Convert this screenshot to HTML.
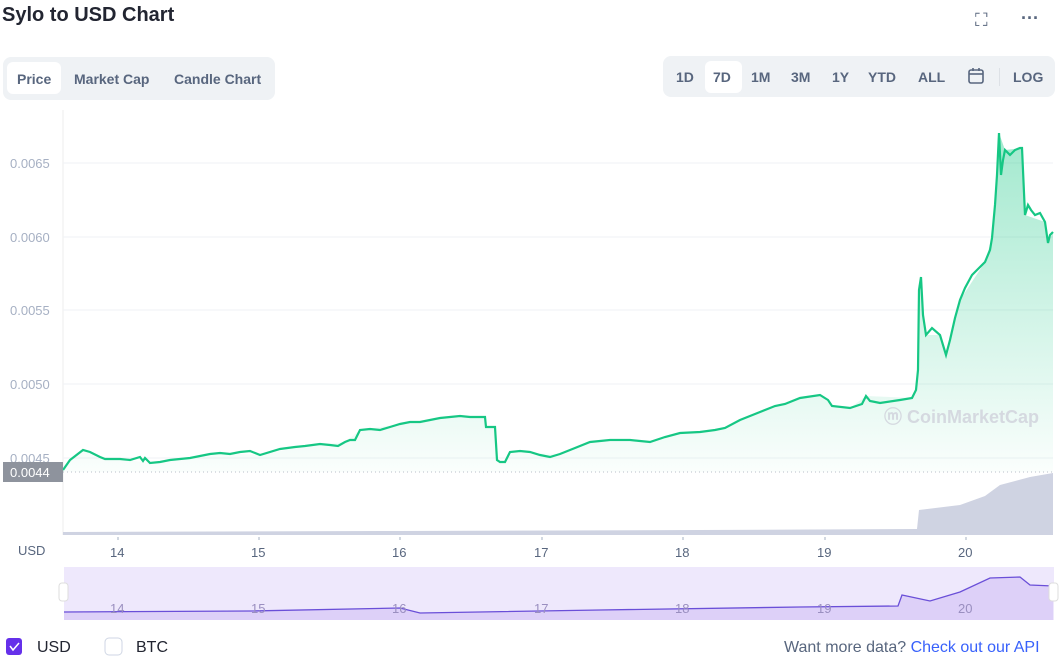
<!DOCTYPE html>
<html><head><meta charset="utf-8"><style>
body{margin:0;width:1060px;height:662px;background:#fff;font-family:"Liberation Sans",sans-serif;overflow:hidden;position:relative}
.t{position:absolute;white-space:nowrap}
</style></head><body>
<div class="t" style="left:2px;top:4px;font-size:20px;font-weight:bold;color:#222531">Sylo to USD Chart</div>
<div class="t" style="left:975px;top:10px;font-size:18px;color:#58667e">⛶</div>
<div class="t" style="left:1021px;top:8px;font-size:18px;color:#58667e;font-weight:bold">···</div>
<div style="position:absolute;left:3px;top:57px;width:272px;height:43px;background:#eff2f5;border-radius:8px"></div>
<div style="position:absolute;left:7px;top:62px;width:54px;height:32px;background:#fff;border-radius:6px"></div>
<div class="t" style="left:17px;top:71px;font-size:14px;font-weight:bold;color:#58667e">Price</div>
<div class="t" style="left:74px;top:71px;font-size:14px;font-weight:bold;color:#58667e">Market Cap</div>
<div class="t" style="left:174px;top:71px;font-size:14px;font-weight:bold;color:#58667e">Candle Chart</div>
<div style="position:absolute;left:663px;top:56px;width:392px;height:41px;background:#eff2f5;border-radius:8px"></div>
<div style="position:absolute;left:705px;top:61px;width:37px;height:32px;background:#fff;border-radius:6px"></div>
<div class="t" style="left:676px;top:69px;font-size:14px;font-weight:bold;color:#58667e">1D</div>
<div class="t" style="left:713px;top:69px;font-size:14px;font-weight:bold;color:#58667e">7D</div>
<div class="t" style="left:751px;top:69px;font-size:14px;font-weight:bold;color:#58667e">1M</div>
<div class="t" style="left:791px;top:69px;font-size:14px;font-weight:bold;color:#58667e">3M</div>
<div class="t" style="left:832px;top:69px;font-size:14px;font-weight:bold;color:#58667e">1Y</div>
<div class="t" style="left:868px;top:69px;font-size:14px;font-weight:bold;color:#58667e">YTD</div>
<div class="t" style="left:918px;top:69px;font-size:14px;font-weight:bold;color:#58667e">ALL</div>
<svg style="position:absolute;left:967px;top:67px" width="18" height="18"><rect x="2" y="3" width="14" height="13" rx="2" fill="none" stroke="#58667e" stroke-width="1.6"/><line x1="2" y1="7" x2="16" y2="7" stroke="#58667e" stroke-width="1.6"/><line x1="6" y1="1" x2="6" y2="4" stroke="#58667e" stroke-width="1.6"/><line x1="12" y1="1" x2="12" y2="4" stroke="#58667e" stroke-width="1.6"/></svg>
<div style="position:absolute;left:999px;top:68px;width:1px;height:18px;background:#dde1e6"></div>
<div class="t" style="left:1013px;top:69px;font-size:14px;font-weight:bold;color:#58667e">LOG</div>

<svg style="position:absolute;left:0;top:0" width="1060" height="662">
<defs><linearGradient id="g" x1="0" y1="0" x2="0" y2="1"><stop offset="0" stop-color="#16c784" stop-opacity="0.4"/><stop offset="1" stop-color="#16c784" stop-opacity="0.02"/></linearGradient></defs>
<line x1="63" y1="110" x2="63" y2="535" stroke="#eee"/>
<g stroke="#eff2f5"><line x1="63" y1="163" x2="1053" y2="163"/><line x1="63" y1="237" x2="1053" y2="237"/><line x1="63" y1="310" x2="1053" y2="310"/><line x1="63" y1="384" x2="1053" y2="384"/><line x1="63" y1="458" x2="1053" y2="458"/></g>
<g font-size="13" fill="#a6b0c3" font-family="Liberation Sans"><text x="10" y="168">0.0065</text><text x="10" y="242">0.0060</text><text x="10" y="315">0.0055</text><text x="10" y="389">0.0050</text><text x="10" y="463">0.0045</text></g>
<path d="M63,470 L70,460 83,450 90,452 100,457 120,459 150,463 180,459 220,453 260,455 305,446 345,442 360,430 400,424 440,418 485,417 486,427 495,427 497,460 505,462 510,452 560,454 590,442 650,442 680,433 725,428 760,412 800,398 820,395 832,406 850,408 866,396 912,398 916,390 918,370 919,290 921,277 923,315 926,335 940,335 946,355 960,300 985,262 992,238 997,175 999,133 1005,150 1022,148 1025,215 1045,222 1048,243 1053,232 L1053,472 L63,472 Z" fill="url(#g)"/>
<path d="M63,470 L70,460 83,450 90,452 100,457 105,459 120,459 130,460 140,457 143,461 145,458 150,463 160,462 170,460 180,459 190,458 200,456 210,454 220,453 230,454 240,452 250,451 260,455 280,449 295,447 305,446 320,444 330,445 338,446 345,442 350,440 355,440 357,436 360,430 370,429 380,430 390,427 400,424 410,422 420,422 430,420 440,418 450,417 460,416 470,417 485,417 486,427 495,427 497,460 500,462 505,462 510,452 520,451 530,452 540,455 550,457 560,454 575,448 590,442 610,440 630,440 650,442 665,437 680,433 700,432 715,430 725,428 740,420 760,412 775,406 785,404 800,398 820,395 828,400 832,406 850,408 862,404 866,396 870,401 880,403 900,400 912,398 916,390 918,370 919,290 921,277 923,315 926,335 932,328 940,335 946,355 950,340 955,318 960,300 965,288 972,275 980,267 985,262 990,250 992,238 995,205 997,175 999,133 1001,175 1003,160 1005,150 1010,155 1015,150 1020,148 1022,148 1025,215 1028,205 1031,210 1035,215 1040,213 1045,222 1048,243 1050,235 1053,232" fill="none" stroke="#16c784" stroke-width="2.2"/>
<line x1="63" y1="472" x2="1053" y2="472" stroke="#b8bfca" stroke-dasharray="1,3"/>
<path d="M63,535 L63,532 400,531 700,530 917,529 919,510 960,505 985,496 1000,485 1030,477 1053,473 L1053,535 Z" fill="#cfd3e2"/>
<rect x="3" y="462" width="60" height="20" fill="#8e939d"/>
<text x="10" y="477" font-size="13" fill="#fff">0.0044</text>
<g font-size="13" fill="#58667e"><text x="18" y="555">USD</text>
<text x="110" y="557">14</text><text x="251" y="557">15</text><text x="392" y="557">16</text><text x="534" y="557">17</text><text x="675" y="557">18</text><text x="817" y="557">19</text><text x="958" y="557">20</text></g>
<g stroke="#a6b0c3"><line x1="118" y1="537" x2="118" y2="540"/><line x1="259" y1="537" x2="259" y2="540"/><line x1="400" y1="537" x2="400" y2="540"/><line x1="542" y1="537" x2="542" y2="540"/><line x1="683" y1="537" x2="683" y2="540"/><line x1="825" y1="537" x2="825" y2="540"/><line x1="966" y1="537" x2="966" y2="540"/></g>
<text x="884" y="423" font-size="18" font-weight="bold" fill="#d5d9e0">ⓜ CoinMarketCap</text>
<rect x="64" y="567" width="990" height="53" fill="#eee8fc"/>
<path d="M64,612 L250,611 400,608 420,613 600,610 800,607 898,606 902,595 930,601 960,592 990,578 1020,577 1030,585 1053,586 L1053,620 L64,620 Z" fill="#ddd0f8"/>
<path d="M64,612 L250,611 400,608 420,613 600,610 800,607 898,606 902,595 930,601 960,592 990,578 1020,577 1030,585 1053,586" fill="none" stroke="#6a4fd8" stroke-width="1.3"/>
<g font-size="13" fill="#9a8fc0"><text x="110" y="613">14</text><text x="251" y="613">15</text><text x="392" y="613">16</text><text x="534" y="613">17</text><text x="675" y="613">18</text><text x="817" y="613">19</text><text x="958" y="613">20</text></g>
<rect x="59" y="583" width="9" height="18" rx="3" fill="#fff" stroke="#ddd"/>
<rect x="1049" y="583" width="9" height="18" rx="3" fill="#fff" stroke="#ddd"/>
<rect x="6" y="638" width="16" height="17" rx="3" fill="#6530ea"/>
<path d="M10,646 l3,4 6,-7" fill="none" stroke="#fff" stroke-width="1.5"/>
<rect x="105" y="638" width="17" height="17" rx="4" fill="#fff" stroke="#cfd6e4"/>
<g font-size="16" fill="#222531"><text x="37" y="652">USD</text><text x="136" y="652">BTC</text></g>
<text x="784" y="652" font-size="16" fill="#58667e">Want more data? <tspan fill="#3861fb">Check out our API</tspan></text>
</svg>
</body></html>
